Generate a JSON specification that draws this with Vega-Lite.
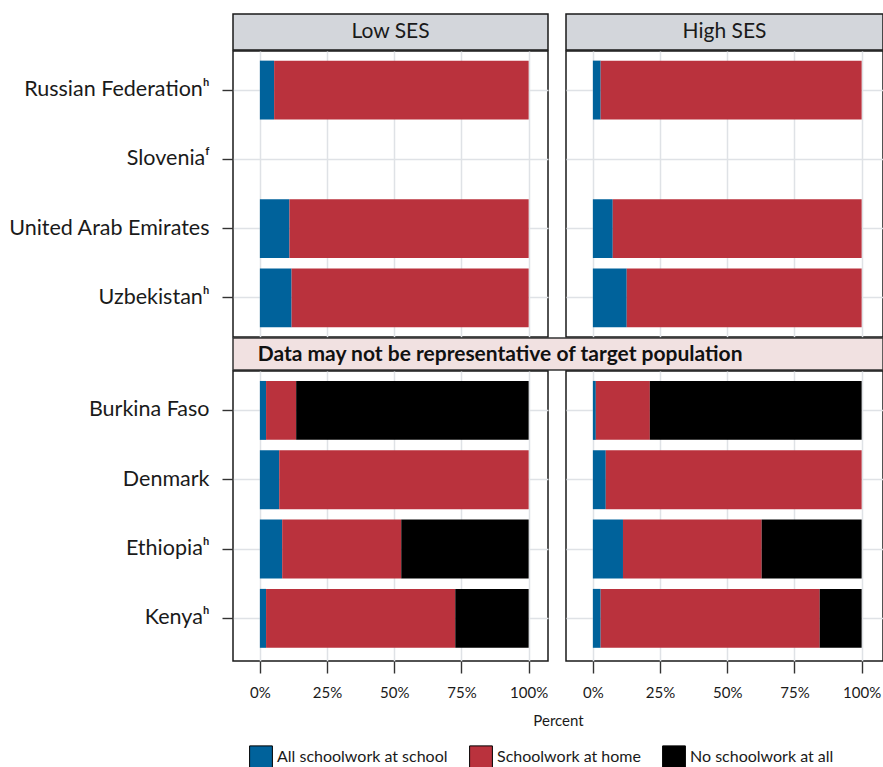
{
  "$schema": "https://vega.github.io/schema/vega-lite/v6.json",
  "autosize": {"type": "none"},
  "padding": {"left": 233, "top": 14, "right": 650, "bottom": 753},
  "background": "white",
  "datasets": {
    "bars": [
      {"g": "top", "ses": "Low SES", "country": "Russian Federationʰ", "cat": "All schoolwork at school", "k": 1, "value": 0.053},
      {"g": "top", "ses": "Low SES", "country": "Russian Federationʰ", "cat": "Schoolwork at home", "k": 2, "value": 0.947},
      {"g": "top", "ses": "Low SES", "country": "United Arab Emirates", "cat": "All schoolwork at school", "k": 1, "value": 0.11},
      {"g": "top", "ses": "Low SES", "country": "United Arab Emirates", "cat": "Schoolwork at home", "k": 2, "value": 0.89},
      {"g": "top", "ses": "Low SES", "country": "Uzbekistanʰ", "cat": "All schoolwork at school", "k": 1, "value": 0.118},
      {"g": "top", "ses": "Low SES", "country": "Uzbekistanʰ", "cat": "Schoolwork at home", "k": 2, "value": 0.882},
      {"g": "top", "ses": "High SES", "country": "Russian Federationʰ", "cat": "All schoolwork at school", "k": 1, "value": 0.029},
      {"g": "top", "ses": "High SES", "country": "Russian Federationʰ", "cat": "Schoolwork at home", "k": 2, "value": 0.971},
      {"g": "top", "ses": "High SES", "country": "United Arab Emirates", "cat": "All schoolwork at school", "k": 1, "value": 0.074},
      {"g": "top", "ses": "High SES", "country": "United Arab Emirates", "cat": "Schoolwork at home", "k": 2, "value": 0.926},
      {"g": "top", "ses": "High SES", "country": "Uzbekistanʰ", "cat": "All schoolwork at school", "k": 1, "value": 0.126},
      {"g": "top", "ses": "High SES", "country": "Uzbekistanʰ", "cat": "Schoolwork at home", "k": 2, "value": 0.874},
      {"g": "bottom", "ses": "Low SES", "country": "Burkina Faso", "cat": "All schoolwork at school", "k": 1, "value": 0.023},
      {"g": "bottom", "ses": "Low SES", "country": "Burkina Faso", "cat": "Schoolwork at home", "k": 2, "value": 0.112},
      {"g": "bottom", "ses": "Low SES", "country": "Burkina Faso", "cat": "No schoolwork at all", "k": 3, "value": 0.865},
      {"g": "bottom", "ses": "Low SES", "country": "Denmark", "cat": "All schoolwork at school", "k": 1, "value": 0.072},
      {"g": "bottom", "ses": "Low SES", "country": "Denmark", "cat": "Schoolwork at home", "k": 2, "value": 0.928},
      {"g": "bottom", "ses": "Low SES", "country": "Ethiopiaʰ", "cat": "All schoolwork at school", "k": 1, "value": 0.083},
      {"g": "bottom", "ses": "Low SES", "country": "Ethiopiaʰ", "cat": "Schoolwork at home", "k": 2, "value": 0.443},
      {"g": "bottom", "ses": "Low SES", "country": "Ethiopiaʰ", "cat": "No schoolwork at all", "k": 3, "value": 0.474},
      {"g": "bottom", "ses": "Low SES", "country": "Kenyaʰ", "cat": "All schoolwork at school", "k": 1, "value": 0.023},
      {"g": "bottom", "ses": "Low SES", "country": "Kenyaʰ", "cat": "Schoolwork at home", "k": 2, "value": 0.704},
      {"g": "bottom", "ses": "Low SES", "country": "Kenyaʰ", "cat": "No schoolwork at all", "k": 3, "value": 0.273},
      {"g": "bottom", "ses": "High SES", "country": "Burkina Faso", "cat": "All schoolwork at school", "k": 1, "value": 0.011},
      {"g": "bottom", "ses": "High SES", "country": "Burkina Faso", "cat": "Schoolwork at home", "k": 2, "value": 0.201},
      {"g": "bottom", "ses": "High SES", "country": "Burkina Faso", "cat": "No schoolwork at all", "k": 3, "value": 0.788},
      {"g": "bottom", "ses": "High SES", "country": "Denmark", "cat": "All schoolwork at school", "k": 1, "value": 0.048},
      {"g": "bottom", "ses": "High SES", "country": "Denmark", "cat": "Schoolwork at home", "k": 2, "value": 0.952},
      {"g": "bottom", "ses": "High SES", "country": "Ethiopiaʰ", "cat": "All schoolwork at school", "k": 1, "value": 0.112},
      {"g": "bottom", "ses": "High SES", "country": "Ethiopiaʰ", "cat": "Schoolwork at home", "k": 2, "value": 0.516},
      {"g": "bottom", "ses": "High SES", "country": "Ethiopiaʰ", "cat": "No schoolwork at all", "k": 3, "value": 0.372},
      {"g": "bottom", "ses": "High SES", "country": "Kenyaʰ", "cat": "All schoolwork at school", "k": 1, "value": 0.029},
      {"g": "bottom", "ses": "High SES", "country": "Kenyaʰ", "cat": "Schoolwork at home", "k": 2, "value": 0.815},
      {"g": "bottom", "ses": "High SES", "country": "Kenyaʰ", "cat": "No schoolwork at all", "k": 3, "value": 0.156}
    ]
  },
  "spacing": -2,
  "resolve": {"scale": {"x": "independent", "y": "independent", "color": "shared"}},
  "vconcat": [
    {
      "hconcat": [
        {
          "width": 315, "height": 36,
          "data": {"values": [{"lab": "Low SES"}]},
          "view": {"fill": "#d3d6db", "stroke": "#1a1a1a", "strokeWidth": 1.5},
          "mark": {"type": "text", "fontSize": 21, "color": "#1a1a1a", "baseline": "middle"},
          "encoding": {"text": {"field": "lab"}}
        },
        {
          "width": 317, "height": 36,
          "data": {"values": [{"lab": "High SES"}]},
          "view": {"fill": "#d3d6db", "stroke": "#1a1a1a", "strokeWidth": 1.5},
          "mark": {"type": "text", "fontSize": 21, "color": "#1a1a1a", "baseline": "middle"},
          "encoding": {"text": {"field": "lab"}}
        }
      ],
      "spacing": 18,
      "bounds": "flush"
    },
    {
      "hconcat": [
        {
          "width": 315, "height": 286,
          "data": {"name": "bars"},
          "transform": [{"filter": "datum.g == 'top' && datum.ses == 'Low SES'"}],
          "view": {"stroke": "#1a1a1a", "strokeWidth": 1.5},
          "mark": {"type": "bar"},
          "encoding": {
            "y": {"field": "country", "type": "nominal", "title": null,
                  "scale": {"domain": ["Russian Federationʰ", "Sloveniaᶠ", "United Arab Emirates", "Uzbekistanʰ"], "paddingInner": 0.15, "paddingOuter": 0.139},
                  "axis": {"labelFontSize": 21.5, "labelPadding": 13, "tickSize": 11, "domain": false, "grid": true, "labelLimit": 400}},
            "x": {"field": "value", "type": "quantitative", "stack": "zero",
                  "scale": {"domain": [-0.1, 1.072], "nice": false, "zero": false},
                  "axis": {"values": [0, 0.25, 0.5, 0.75, 1], "labels": false, "ticks": false, "domain": false, "title": null, "grid": true}},
            "color": {"field": "cat", "type": "nominal",
                      "scale": {"domain": ["All schoolwork at school", "Schoolwork at home", "No schoolwork at all"], "range": ["#00629B", "#BA323D", "#000000"]},
                      "legend": {"title": null, "orient": "none", "legendX": 16, "legendY": 731, "direction": "horizontal"}},
            "order": {"field": "k", "type": "quantitative"}
          }
        },
        {
          "width": 317, "height": 286,
          "data": {"name": "bars"},
          "transform": [{"filter": "datum.g == 'top' && datum.ses == 'High SES'"}],
          "view": {"stroke": "#1a1a1a", "strokeWidth": 1.5},
          "mark": {"type": "bar"},
          "encoding": {
            "y": {"field": "country", "type": "nominal", "title": null,
                  "scale": {"domain": ["Russian Federationʰ", "Sloveniaᶠ", "United Arab Emirates", "Uzbekistanʰ"], "paddingInner": 0.15, "paddingOuter": 0.139},
                  "axis": {"labels": false, "ticks": false, "domain": false, "grid": true}},
            "x": {"field": "value", "type": "quantitative", "stack": "zero",
                  "scale": {"domain": [-0.1, 1.0795], "nice": false, "zero": false},
                  "axis": {"values": [0, 0.25, 0.5, 0.75, 1], "labels": false, "ticks": false, "domain": false, "title": null, "grid": true}},
            "color": {"field": "cat", "type": "nominal",
                      "scale": {"domain": ["All schoolwork at school", "Schoolwork at home", "No schoolwork at all"], "range": ["#00629B", "#BA323D", "#000000"]},
                      "legend": {"title": null, "orient": "none", "legendX": 16, "legendY": 731, "direction": "horizontal"}},
            "order": {"field": "k", "type": "quantitative"}
          }
        }
      ],
      "spacing": 18,
      "bounds": "flush",
      "resolve": {"scale": {"x": "independent", "y": "independent"}}
    },
    {
      "width": 650, "height": 32,
      "data": {"values": [{"lab": "Data may not be representative of target population"}]},
      "view": {"fill": "#f1e1e1", "stroke": "#333333", "strokeWidth": 1.5},
      "mark": {"type": "text", "fontSize": 21, "fontWeight": "bold", "align": "left", "baseline": "middle", "color": "#111111", "dy": 1},
      "encoding": {
        "text": {"field": "lab"},
        "x": {"datum": -0.008, "type": "quantitative", "scale": {"domain": [-0.1, 2.318], "nice": false, "zero": false}, "axis": null}
      }
    },
    {
      "hconcat": [
        {
          "width": 315, "height": 290,
          "data": {"name": "bars"},
          "transform": [{"filter": "datum.g == 'bottom' && datum.ses == 'Low SES'"}],
          "view": {"stroke": "#1a1a1a", "strokeWidth": 1.5},
          "mark": {"type": "bar"},
          "encoding": {
            "y": {"field": "country", "type": "nominal", "title": null,
                  "scale": {"domain": ["Burkina Faso", "Denmark", "Ethiopiaʰ", "Kenyaʰ"], "paddingInner": 0.15, "paddingOuter": 0.167, "align": 0.43},
                  "axis": {"labelFontSize": 21.5, "labelPadding": 13, "tickSize": 11, "domain": false, "grid": true, "labelLimit": 400}},
            "x": {"field": "value", "type": "quantitative", "stack": "zero",
                  "scale": {"domain": [-0.1, 1.072], "nice": false, "zero": false},
                  "axis": {"values": [0, 0.25, 0.5, 0.75, 1], "format": ".0%", "labelFontSize": 15, "tickSize": 12, "labelPadding": 12, "domain": false, "grid": true,
                           "title": "Percent", "titleX": 325, "titleY": 52, "titleFontSize": 15, "titleFontWeight": "normal", "titleColor": "#1a1a1a"}},
            "color": {"field": "cat", "type": "nominal",
                      "scale": {"domain": ["All schoolwork at school", "Schoolwork at home", "No schoolwork at all"], "range": ["#00629B", "#BA323D", "#000000"]},
                      "legend": {"title": null, "orient": "none", "legendX": 16, "legendY": 731, "direction": "horizontal"}},
            "order": {"field": "k", "type": "quantitative"}
          }
        },
        {
          "width": 317, "height": 290,
          "data": {"name": "bars"},
          "transform": [{"filter": "datum.g == 'bottom' && datum.ses == 'High SES'"}],
          "view": {"stroke": "#1a1a1a", "strokeWidth": 1.5},
          "mark": {"type": "bar"},
          "encoding": {
            "y": {"field": "country", "type": "nominal", "title": null,
                  "scale": {"domain": ["Burkina Faso", "Denmark", "Ethiopiaʰ", "Kenyaʰ"], "paddingInner": 0.15, "paddingOuter": 0.167, "align": 0.43},
                  "axis": {"labels": false, "ticks": false, "domain": false, "grid": true}},
            "x": {"field": "value", "type": "quantitative", "stack": "zero",
                  "scale": {"domain": [-0.1, 1.0795], "nice": false, "zero": false},
                  "axis": {"values": [0, 0.25, 0.5, 0.75, 1], "format": ".0%", "labelFontSize": 15, "tickSize": 12, "labelPadding": 12, "domain": false, "grid": true, "title": null}},
            "color": {"field": "cat", "type": "nominal",
                      "scale": {"domain": ["All schoolwork at school", "Schoolwork at home", "No schoolwork at all"], "range": ["#00629B", "#BA323D", "#000000"]},
                      "legend": {"title": null, "orient": "none", "legendX": 16, "legendY": 731, "direction": "horizontal"}},
            "order": {"field": "k", "type": "quantitative"}
          }
        }
      ],
      "spacing": 18,
      "bounds": "flush",
      "resolve": {"scale": {"x": "independent", "y": "independent"}}
    }
  ],
  "config": {
    "font": "Lato",
    "axis": {"labelFont": "Lato", "labelColor": "#1a1a1a", "tickColor": "#333333", "tickWidth": 1.4, "gridColor": "#dfe2e6", "gridWidth": 1.5, "titleFont": "Lato"},
    "legend": {"labelFont": "Lato", "labelFontSize": 16, "labelColor": "#1a1a1a", "symbolType": "square", "symbolSize": 520, "symbolStrokeColor": "#000000", "symbolStrokeWidth": 1, "symbolOpacity": 1, "columnPadding": 19, "labelOffset": 4, "padding": 0, "labelLimit": 300},
    "text": {"font": "Lato"}
  }
}
